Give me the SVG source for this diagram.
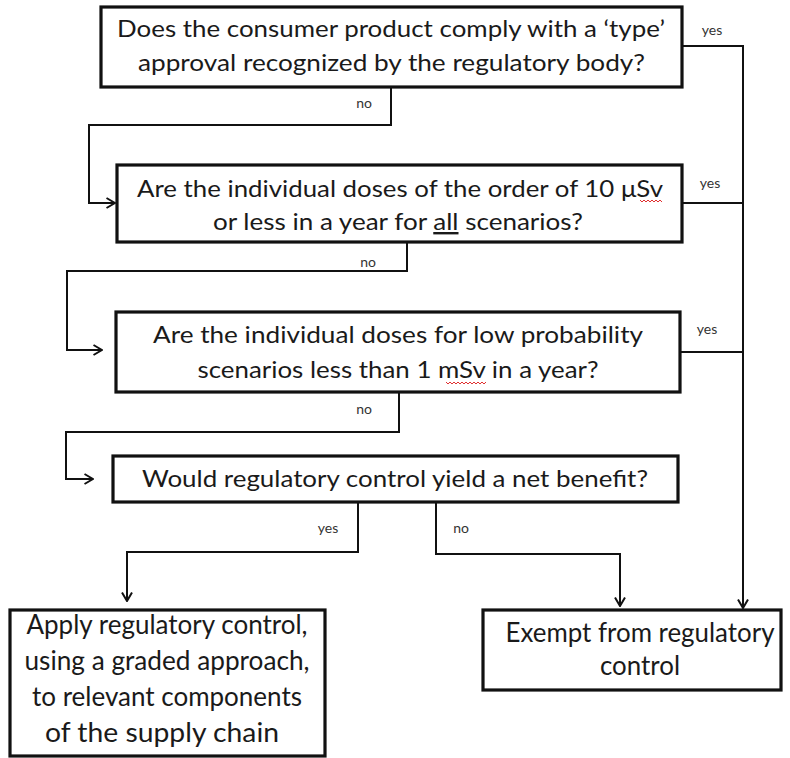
<svg xmlns="http://www.w3.org/2000/svg" width="790" height="758" viewBox="0 0 790 758">
<style>
.box{fill:#fff;stroke:#111;stroke-width:3.2}
.t{font-family:Lato,"Open Sans","Liberation Sans",sans-serif;font-size:24px;fill:#1a1a1a;text-anchor:middle}
.tb{font-family:Lato,"Open Sans","Liberation Sans",sans-serif;font-size:26px;fill:#1a1a1a;text-anchor:middle}
.lbl{font-family:Lato,"Open Sans","Liberation Sans",sans-serif;font-size:14px;fill:#333;text-anchor:middle}
.c{fill:none;stroke:#111;stroke-width:2}
.sq{fill:none;stroke:#e03030;stroke-width:1}
</style>
<defs>
<marker id="arr" viewBox="0 0 10 12" refX="9.5" refY="6" markerWidth="10" markerHeight="12" markerUnits="userSpaceOnUse" orient="auto">
<path d="M1,1 L9.5,6 L1,11" fill="none" stroke="#111" stroke-width="2"/>
</marker>
</defs>
<rect width="790" height="758" fill="#fff"/>
<g id="connectors">
<path class="c" d="M682,46 H743 V608" marker-end="url(#arr)"/>
<path class="c" d="M682,203 H743"/>
<path class="c" d="M680,352 H743"/>
<path class="c" d="M391,87 V125 H89 V203 H115" marker-end="url(#arr)"/>
<path class="c" d="M407,242 V271 H67 V350 H102" marker-end="url(#arr)"/>
<path class="c" d="M399,392 V432 H66 V479 H93" marker-end="url(#arr)"/>
<path class="c" d="M358,502 V552 H127 V601" marker-end="url(#arr)"/>
<path class="c" d="M436,502 V554 H620 V606" marker-end="url(#arr)"/>
<text class="lbl" x="712" y="35">yes</text>
<text class="lbl" x="364" y="108">no</text>
<text class="lbl" x="710" y="188">yes</text>
<text class="lbl" x="368" y="267">no</text>
<text class="lbl" x="707" y="334">yes</text>
<text class="lbl" x="364" y="414">no</text>
<text class="lbl" x="328" y="533">yes</text>
<text class="lbl" x="461" y="533">no</text>
</g>
<g id="q1">
<rect class="box" x="101" y="7" width="581" height="80"/>
<text class="t" x="391" y="37" textLength="548" lengthAdjust="spacingAndGlyphs">Does the consumer product comply with a ‘type’</text>
<text class="t" x="391.5" y="71" textLength="507" lengthAdjust="spacingAndGlyphs">approval recognized by the regulatory body?</text>
</g>
<g id="q2">
<rect class="box" x="117" y="165" width="565" height="77"/>
<text class="t" x="400" y="197" textLength="526" lengthAdjust="spacingAndGlyphs">Are the individual doses of the order of 10 μSv</text>
<text class="t" x="398" y="230" textLength="370" lengthAdjust="spacingAndGlyphs">or less in a year for <tspan text-decoration="underline">all</tspan> scenarios?</text>
<path class="sq" d="M640,200 l2,2 l2,-2 l2,2 l2,-2 l2,2 l2,-2 l2,2 l2,-2 l2,2 l2,-2 l2,2"/>
</g>
<g id="q3">
<rect class="box" x="116" y="312" width="564" height="80"/>
<text class="t" x="398" y="343" textLength="490" lengthAdjust="spacingAndGlyphs">Are the individual doses for low probability</text>
<text class="t" x="398" y="378" textLength="401" lengthAdjust="spacingAndGlyphs">scenarios less than 1 mSv in a year?</text>
<path class="sq" d="M446,382 l2,2 l2,-2 l2,2 l2,-2 l2,2 l2,-2 l2,2 l2,-2 l2,2 l2,-2 l2,2 l2,-2 l2,2 l2,-2 l2,2 l2,-2 l2,2 l2,-2 l2,2 l2,-2"/>
</g>
<g id="q4">
<rect class="box" x="113" y="456" width="565" height="46"/>
<text class="t" x="395" y="487" textLength="506" lengthAdjust="spacingAndGlyphs">Would regulatory control yield a net benefit?</text>
</g>
<g id="apply">
<rect class="box" x="10" y="610" width="315" height="146"/>
<text class="tb" x="167" y="634" textLength="281" lengthAdjust="spacingAndGlyphs">Apply regulatory control,</text>
<text class="tb" x="167" y="670" textLength="285" lengthAdjust="spacingAndGlyphs">using a graded approach,</text>
<text class="tb" x="167" y="706" textLength="270" lengthAdjust="spacingAndGlyphs">to relevant components</text>
<text class="tb" x="162" y="742" textLength="234" lengthAdjust="spacingAndGlyphs">of the supply chain</text>
</g>
<g id="exempt">
<rect class="box" x="483" y="610" width="298" height="80"/>
<text class="tb" x="640" y="642" textLength="269" lengthAdjust="spacingAndGlyphs">Exempt from regulatory</text>
<text class="tb" x="640" y="675" textLength="80" lengthAdjust="spacingAndGlyphs">control</text>
</g>
</svg>
